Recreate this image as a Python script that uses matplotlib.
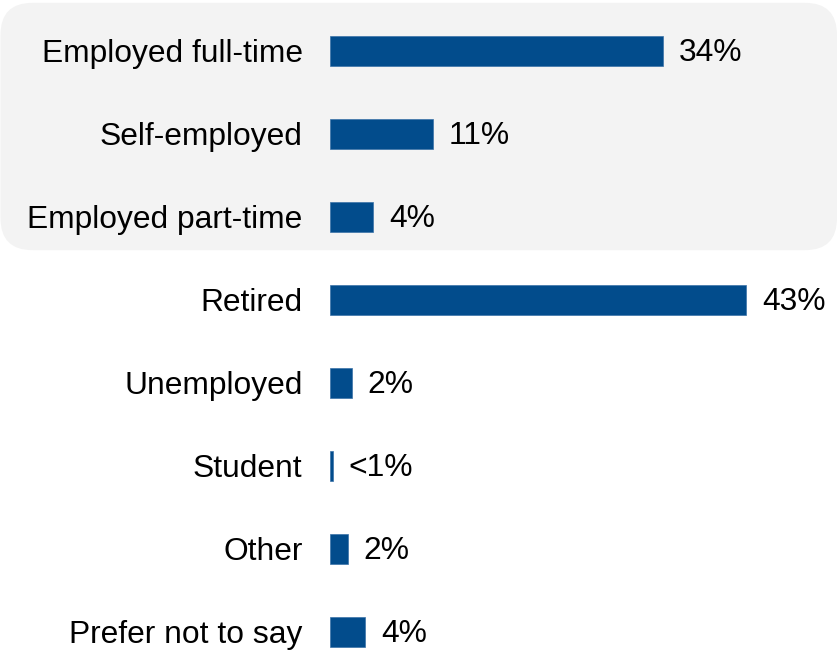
import matplotlib
matplotlib.use("Agg")
import matplotlib.pyplot as plt
from matplotlib.patches import FancyBboxPatch
from matplotlib.transforms import IdentityTransform

# Data
categories = ["Employed full-time", "Self-employed", "Employed part-time", "Retired",
              "Unemployed", "Student", "Other", "Prefer not to say"]
values = [34.3, 10.6, 4.4, 42.9, 2.2, 0.25, 1.8, 3.6]
value_labels = ["34%", "11%", "4%", "43%", "2%", "<1%", "2%", "4%"]
employed_group = ["Employed full-time", "Self-employed", "Employed part-time"]

plt.rcParams["font.family"] = ["Liberation Sans", "DejaVu Sans"]

fig = plt.figure(figsize=(8.38, 6.5), dpi=100)
ax = fig.add_axes([330.3 / 838, 0, 485 / 838, 1])

ypos = list(range(len(categories)))
ax.barh(ypos, values, height=0.355, color="#024C8C", edgecolor="#3A72A8", linewidth=0.5, zorder=3)

ax.set_xlim(0, 50)
ax.set_ylim(7.217, -0.614)
ax.set_yticks(ypos)
ax.set_yticklabels(categories, fontsize=22.85, color="black")
ax.tick_params(axis="y", length=0, pad=20)
ax.set_xticks([])
for s in ax.spines.values():
    s.set_visible(False)
ax.patch.set_visible(False)

for y, v, t in zip(ypos, values, value_labels):
    ax.annotate(t, (v, y), xytext=(11.5, -1.3), textcoords="offset points",
                ha="left", va="center", fontsize=22.85, color="black")

# grey rounded panel behind the employed rows
idx = [categories.index(c) for c in employed_group]
y_top = ax.transData.transform((0, min(idx) - 0.58))[1]
y_bot = ax.transData.transform((0, max(idx) + 0.40))[1]
box = FancyBboxPatch((0.5, y_bot), 836.5, y_top - y_bot,
                     boxstyle="round,pad=0,rounding_size=32",
                     transform=IdentityTransform(), facecolor="#F3F3F3",
                     edgecolor="none", zorder=-1)
fig.patches.append(box)

fig.savefig("out.png", dpi=100)
